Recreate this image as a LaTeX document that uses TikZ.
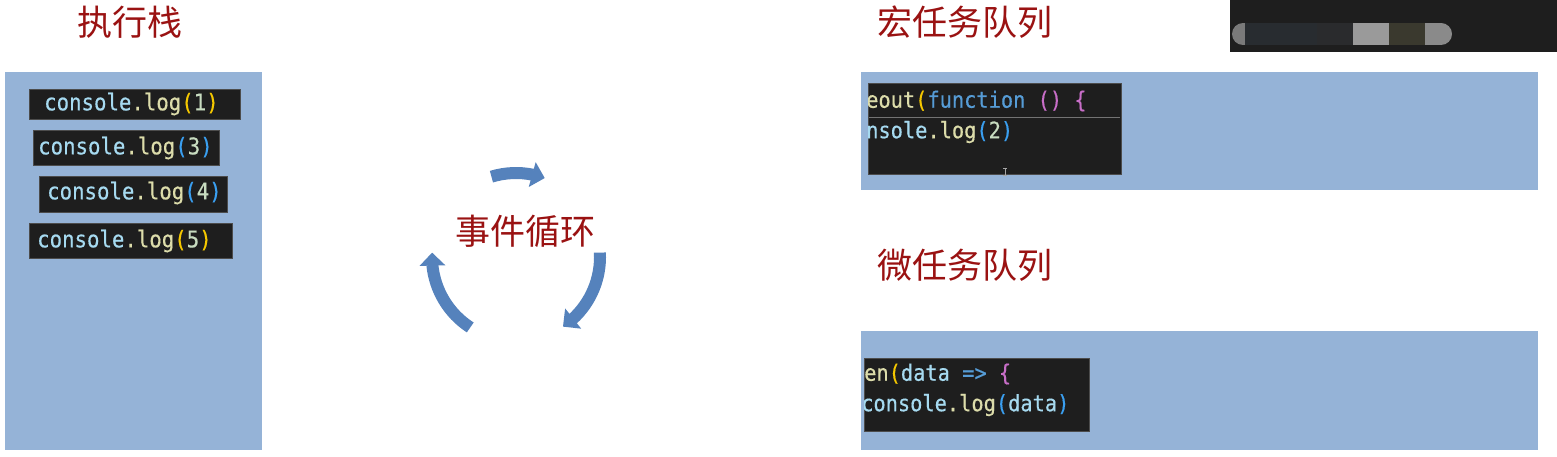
\documentclass[tikz,border=0pt]{standalone}
\usepackage{fontspec}
\newfontfamily\cjk{Noto Sans CJK SC}
\newfontfamily\codefont[FakeStretch=0.9,FakeBold=0.4]{DejaVu Sans Mono}
\usetikzlibrary{arrows.meta,bending,calc}
\definecolor{panelblue}{HTML}{95B3D7}
\definecolor{codebg}{HTML}{1E1E1E}
\definecolor{titlered}{HTML}{9A1212}
\definecolor{arrowblue}{HTML}{5582BC}
\definecolor{cvar}{HTML}{A6DAF0}
\definecolor{cfun}{HTML}{DCDCAA}
\definecolor{cnum}{HTML}{C8DCC0}
\definecolor{cyel}{HTML}{F5C800}
\definecolor{cblu}{HTML}{3A9FF0}
\definecolor{ckey}{HTML}{569CD6}
\definecolor{cpur}{HTML}{C86EC8}
\definecolor{pA}{HTML}{282C30}
\definecolor{pB}{HTML}{2A2B2D}
\definecolor{pC}{HTML}{9A9A9A}
\definecolor{pD}{HTML}{3A392E}
\definecolor{pE}{HTML}{8A8A8A}
\definecolor{pF}{HTML}{7A7A7A}
\tikzset{
  panel/.style={fill=panelblue,draw=none},
  codebox/.style={fill=codebg,draw=black!70,line width=0.8},
  title/.style={font=\cjk\fontsize{35}{40}\selectfont,text=titlered,inner sep=0},
  codetxt/.style={font=\codefont\fontsize{23}{26}\selectfont,anchor=west,inner sep=0},
  codetxts/.style={font=\codefont\fontsize{22.6}{26}\selectfont,anchor=west,inner sep=0},
  cyc/.style={draw=arrowblue,line width=12,-{Triangle[length=13,width=25]}},
}
\newcommand{\conlog}[2]{\textcolor{cvar}{console}\textcolor{cfun}{.log}\textcolor{#1}{(}\textcolor{cnum}{#2}\textcolor{#1}{)}}
\begin{document}
\begin{tikzpicture}[x=1pt,y=-1pt]
\useasboundingbox (0,0) rectangle (1557,457);
\fill[white] (0,0) rectangle (1557,457);

% titles
\node[title] (t1) at (130,22) {执行栈};
\node[title] (t2) at (965,22) {宏任务队列};
\node[title] (t3) at (965,265) {微任务队列};
\node[title] (t4) at (525,231) {事件循环};

% left panel
\fill[panel] (5,72) rectangle (262,450);
\filldraw[codebox] (29,89) rectangle (240,119);
\filldraw[codebox] (33,130) rectangle (219,165);
\filldraw[codebox] (39,176) rectangle (227,212);
\filldraw[codebox] (29,223) rectangle (232,258);
\node[codetxt] (l1) at (44,104) {\conlog{cyel}{1}};
\node[codetxt] (l3) at (38,148) {\conlog{cblu}{3}};
\node[codetxt] (l4) at (47,193) {\conlog{cblu}{4}};
\node[codetxt] (l5) at (37,241) {\conlog{cyel}{5}};

% cycle arrows
\coordinate (c) at (516,257);
\draw[cyc] ($(c)+(-107:84)$) arc[start angle=-107, end angle=-70, radius=84];
\draw[cyc] ($(c)+(-3:84)$) arc[start angle=-3, end angle=56, radius=84];
\draw[cyc] ($(c)+(123:84)$) arc[start angle=123, end angle=183, radius=84];

% right top panel
\fill[panel] (861,72) rectangle (1538,190);
\filldraw[codebox] (868,83) rectangle (1121,174);
\draw[black!55,line width=0.6] (869,117) -- (1120,117);
\begin{scope}
\clip (868,83) rectangle (1121,174);
\node[codetxts] (m1) at (866,101) {\textcolor{cfun}{eout}\textcolor{cyel}{(}\textcolor{ckey}{function}\ \textcolor{cpur}{()}\ \textcolor{cpur}{\{}};
\node[codetxts] (m2) at (866,132) {\textcolor{cvar}{nsole}\textcolor{cfun}{.log}\textcolor{cblu}{(}\textcolor{cnum}{2}\textcolor{cblu}{)}};
\end{scope}
\draw[gray!70,line width=0.8] (1005,168) -- (1005,175) (1003,168) -- (1007,168) (1003,175) -- (1007,175);

% right bottom panel
\fill[panel] (861,331) rectangle (1538,450);
\filldraw[codebox] (864,358) rectangle (1089,431);
\begin{scope}
\clip (864,358) rectangle (1089,431);
\node[codetxts] (n1) at (864,374) {\textcolor{cfun}{en}\textcolor{cyel}{(}\textcolor{cvar}{data}\ \textcolor{ckey}{=>}\ \textcolor{cpur}{\{}};
\node[codetxts] (n2) at (861,405) {\textcolor{cvar}{console}\textcolor{cfun}{.log}\textcolor{cblu}{(}\textcolor{cvar}{data}\textcolor{cblu}{)}};
\end{scope}

% top right dark strip
\fill[codebg] (1230,0) rectangle (1557,52);
\begin{scope}
\clip[rounded corners=11] (1232,23) rectangle (1452,45);
\fill[pF] (1232,23) rectangle (1245,45);
\fill[pA] (1245,23) rectangle (1317,45);
\fill[pB] (1317,23) rectangle (1353,45);
\fill[pC] (1353,23) rectangle (1389,45);
\fill[pD] (1389,23) rectangle (1425,45);
\fill[pE] (1425,23) rectangle (1452,45);
\end{scope}
\end{tikzpicture}
\end{document}
